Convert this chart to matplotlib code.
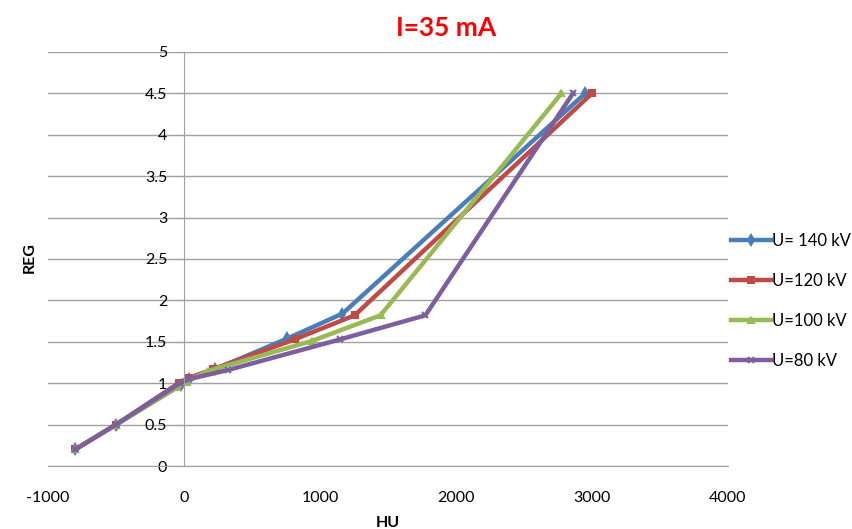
import matplotlib
matplotlib.use("Agg")
import matplotlib.pyplot as plt

plt.rcParams['font.family'] = ['Lato', 'DejaVu Sans']
plt.rcParams['axes.unicode_minus'] = False

# HU values and REG values, one pair of lists per tube voltage
hu_140 = [-800, -500, -20, 40, 230, 760, 1165, 2950]
reg_140 = [0.2, 0.5, 0.98, 1.05, 1.17, 1.54, 1.84, 4.5]
hu_120 = [-800, -500, -40, 30, 215, 815, 1255, 3000]
reg_120 = [0.2, 0.5, 1.0, 1.06, 1.17, 1.53, 1.82, 4.5]
hu_100 = [-800, -500, -50, 20, 180, 940, 1445, 2775]
reg_100 = [0.2, 0.5, 0.95, 1.02, 1.15, 1.51, 1.82, 4.5]
hu_80 = [-800, -500, -30, 40, 325, 1150, 1775, 2860]
reg_80 = [0.2, 0.5, 1.0, 1.05, 1.16, 1.53, 1.82, 4.5]

labels = ["U= 140 kV", "U=120 kV", "U=100 kV", "U=80 kV"]
colors = ["#4a7ebb", "#be4b48", "#98b954", "#7d5fa0"]
markers = ["d", "s", "^", "x"]

fig = plt.figure(figsize=(8.52, 5.29), dpi=100)
ax = fig.add_axes([48/852, 1-466/529, 680/852, 414/529])

series = [(hu_140, reg_140), (hu_120, reg_120), (hu_100, reg_100), (hu_80, reg_80)]
for (x, y), lab, c, m in zip(series, labels, colors, markers):
    ax.plot(x, y, color=c, lw=3.2, marker=m, ms=5, mew=1.5, label=lab)

ax.set_xlim(-1000, 4000)
ax.set_ylim(0, 5)
ax.set_xticks(range(-1000, 4001, 1000))
ax.set_yticks([0, 0.5, 1, 1.5, 2, 2.5, 3, 3.5, 4, 4.5, 5])
ax.set_yticklabels(["0", "0.5", "1", "1.5", "2", "2.5", "3", "3.5", "4", "4.5", "5"])
ax.grid(axis='y', color='#a0a0a0', lw=1)
ax.set_axisbelow(True)

# vertical axis crosses at HU = 0, like the original
ax.spines['left'].set_position(('data', 0))
ax.spines['left'].set_color('#a0a0a0')
ax.spines['bottom'].set_color('#a0a0a0')
ax.spines['top'].set_visible(False)
ax.spines['right'].set_visible(False)
ax.tick_params(axis='y', length=4, color='#a0a0a0', labelsize=11.5, pad=8)
ax.tick_params(axis='x', length=0, labelsize=11.5, pad=18)

ax.set_xlabel("HU", fontsize=11.5, fontweight='bold', labelpad=8)
fig.text(30/852, 1-258/529, "REG", rotation=90, fontsize=11.5, fontweight='bold',
         ha='center', va='center')
fig.text(446/852, 1-28/529, "I=35 mA", color='red', fontsize=19, fontweight='bold',
         ha='center', va='center')

fig.legend(loc='center left', bbox_to_anchor=(724/852, 1-301/529), frameon=False,
           fontsize=12, labelspacing=1.45, handlelength=2.4, handletextpad=0.1,
           borderaxespad=0)

fig.savefig("out.png", dpi=100)
